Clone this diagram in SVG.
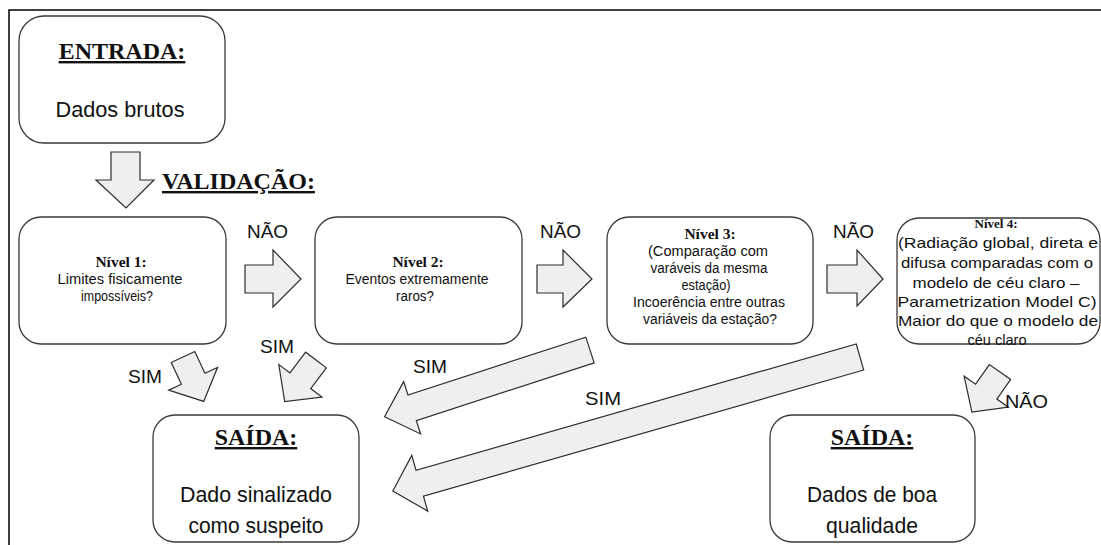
<svg xmlns="http://www.w3.org/2000/svg" width="1101" height="545" viewBox="0 0 1101 545">
<style>
.box{fill:#fff;stroke:#3a3a3a;stroke-width:1.3}
.arr{fill:#efefef;stroke:#2e2e2e;stroke-width:1.2;stroke-linejoin:miter}
text{fill:#111;font-family:"Liberation Sans",Arial,sans-serif}
.big{font-size:22px;text-anchor:middle}
.hd{font-size:24px;font-weight:bold;text-decoration:underline;font-family:"Liberation Serif","Times New Roman",serif}
.t{font-size:14px;text-anchor:middle}
.t4{font-size:15px;text-anchor:middle}
.b{font-weight:bold;font-family:"Liberation Serif","Times New Roman",serif}
.lbl{font-size:18.5px}
</style>
<rect width="1101" height="545" fill="#fff"/>
<path d="M9 545 V10 H1101" fill="none" stroke="#000" stroke-width="1.5"/>

<g id="entrada">
<rect class="box" x="19" y="16" width="206" height="127" rx="25"/>
<text class="hd" x="122" y="59" text-anchor="middle">ENTRADA:</text>
<text class="big" x="120" y="117" textLength="129" lengthAdjust="spacingAndGlyphs">Dados brutos</text>
</g>

<g id="validacao">
<text class="hd" x="162" y="189">VALIDAÇÃO:</text>
</g>

<g id="nivel1">
<rect class="box" x="19" y="217" width="207" height="127" rx="22"/>
<text class="t b" x="121" y="267" style="font-size:15.5px">Nível 1:</text>
<text class="t" x="120" y="284" textLength="125" lengthAdjust="spacingAndGlyphs">Limites  fisicamente</text>
<text class="t" x="117" y="301" textLength="72" lengthAdjust="spacingAndGlyphs">impossíveis?</text>
</g>

<g id="nivel2">
<rect class="box" x="315" y="217" width="207" height="127" rx="22"/>
<text class="t b" x="418" y="267" style="font-size:15.5px">Nível 2:</text>
<text class="t" x="417" y="284" textLength="143" lengthAdjust="spacingAndGlyphs">Eventos  extremamente</text>
<text class="t" x="415" y="301" textLength="38" lengthAdjust="spacingAndGlyphs">raros?</text>
</g>

<g id="nivel3">
<rect class="box" x="607" y="217" width="206" height="127" rx="22"/>
<text class="t b" x="710" y="239" style="font-size:15.5px">Nível 3:</text>
<text class="t" x="708" y="256" textLength="120" lengthAdjust="spacingAndGlyphs">(Comparação  com</text>
<text class="t" x="709" y="273" textLength="117" lengthAdjust="spacingAndGlyphs">varáveis  da mesma</text>
<text class="t" x="706" y="290" textLength="49" lengthAdjust="spacingAndGlyphs">estação)</text>
<text class="t" x="709" y="307" textLength="152" lengthAdjust="spacingAndGlyphs">Incoerência  entre outras</text>
<text class="t" x="710" y="324" textLength="134" lengthAdjust="spacingAndGlyphs">variáveis  da estação?</text>
</g>

<g id="nivel4">
<rect class="box" x="897" y="218" width="203" height="126" rx="22"/>
<text class="t4 b" x="996" y="228" style="font-size:13px">Nível 4:</text>
<text class="t4" x="998" y="248" textLength="200" lengthAdjust="spacingAndGlyphs">(Radiação global, direta e</text>
<text class="t4" x="997" y="268" textLength="192" lengthAdjust="spacingAndGlyphs">difusa  comparadas com o</text>
<text class="t4" x="996" y="288" textLength="167" lengthAdjust="spacingAndGlyphs">modelo  de céu claro –</text>
<text class="t4" x="997" y="307" textLength="199" lengthAdjust="spacingAndGlyphs">Parametrization  Model C)</text>
<text class="t4" x="998" y="326" textLength="200" lengthAdjust="spacingAndGlyphs">Maior do que o modelo  de</text>
<text class="t4" x="997" y="345" textLength="59" lengthAdjust="spacingAndGlyphs">céu claro</text>
</g>

<g id="saida-suspeito">
<rect class="box" x="153" y="415" width="206" height="127" rx="22"/>
<text class="hd" x="256" y="445" text-anchor="middle">SAÍDA:</text>
<text class="big" x="256" y="502" textLength="152" lengthAdjust="spacingAndGlyphs">Dado sinalizado</text>
<text class="big" x="256" y="533" textLength="135" lengthAdjust="spacingAndGlyphs">como suspeito</text>
</g>

<g id="saida-boa">
<rect class="box" x="770" y="415" width="205" height="127" rx="22"/>
<text class="hd" x="872" y="445" text-anchor="middle">SAÍDA:</text>
<text class="big" x="872" y="502" textLength="130" lengthAdjust="spacingAndGlyphs">Dados de boa</text>
<text class="big" x="872" y="533" textLength="92" lengthAdjust="spacingAndGlyphs">qualidade</text>
</g>

<g id="connectors">
<polygon class="arr" points="111,152 140,152 140,180 154,180 126,208 96,180 111,180"/>
<polygon class="arr" points="245,265 273,265 273,250 301,279 273,307 273,293 245,293"/>
<polygon class="arr" points="537,265 563,265 563,250 592,279 563,307 563,293 537,293"/>
<polygon class="arr" points="827,265 857,265 857,250 883,279 857,306 857,293 827,293"/>
<polygon class="arr" transform="translate(183,357) rotate(65)" points="0,-13 24,-13 24,-27 49,0 24,27 24,13 0,13"/>
<polygon class="arr" transform="translate(316,360) rotate(127)" points="0,-13 26,-13 26,-27 52,0 26,27 26,13 0,13"/>
<polygon class="arr" transform="translate(590,350) rotate(162)" points="0,-13.5 187,-13.5 187,-27.5 216,0 187,27.5 187,13.5 0,13.5"/>
<polygon class="arr" transform="translate(860,357) rotate(164)" points="0,-13.5 458,-13.5 458,-29 486,0 458,29 458,13.5 0,13.5"/>
<polygon class="arr" transform="translate(1000,372) rotate(125)" points="0,-13 24,-13 24,-27 49,0 24,27 24,13 0,13"/>
<text class="lbl" x="247" y="238" textLength="41" lengthAdjust="spacingAndGlyphs">NÃO</text>
<text class="lbl" x="540" y="238" textLength="41" lengthAdjust="spacingAndGlyphs">NÃO</text>
<text class="lbl" x="833" y="238" textLength="41" lengthAdjust="spacingAndGlyphs">NÃO</text>
<text class="lbl" x="128" y="383" textLength="34" lengthAdjust="spacingAndGlyphs">SIM</text>
<text class="lbl" x="260" y="353" textLength="34" lengthAdjust="spacingAndGlyphs">SIM</text>
<text class="lbl" x="413" y="373" textLength="34" lengthAdjust="spacingAndGlyphs">SIM</text>
<text class="lbl" x="585" y="405" textLength="36" lengthAdjust="spacingAndGlyphs">SIM</text>
<text class="lbl" x="1005" y="408" textLength="43" lengthAdjust="spacingAndGlyphs">NÃO</text>
</g>
</svg>
